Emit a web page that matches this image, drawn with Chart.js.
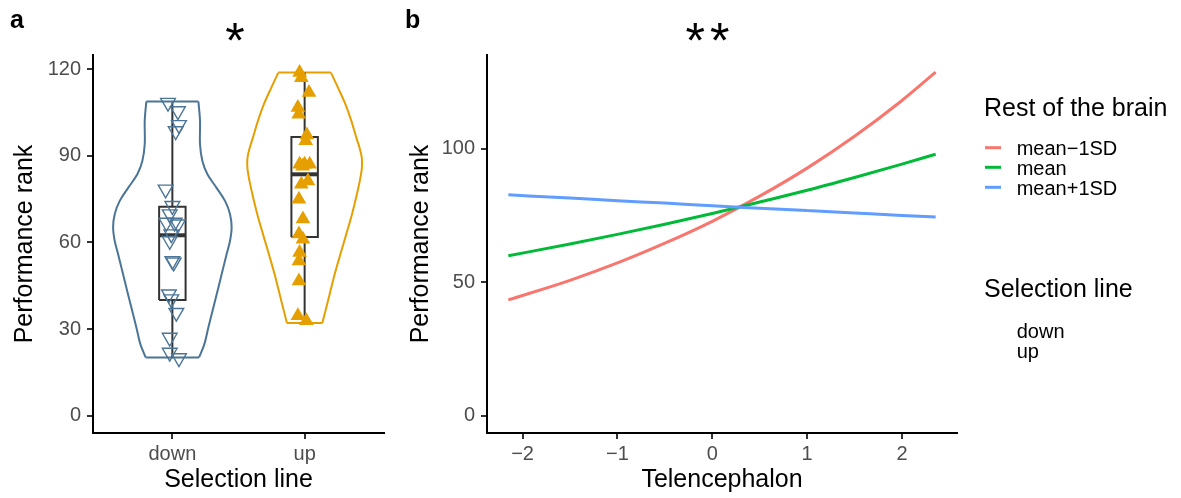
<!DOCTYPE html>
<html><head><meta charset="utf-8">
<script src="https://cdn.jsdelivr.net/npm/chart.js@4.4.1/dist/chart.umd.min.js"></script>
<style>
html,body{margin:0;padding:0;background:#fff;width:1181px;height:498px;overflow:hidden}
canvas{position:absolute;top:0}
#ca{left:0}
#cb{left:400px}
</style></head><body>
<canvas id="ca" width="400" height="498"></canvas>
<canvas id="cb" width="781" height="498"></canvas>
<script>
// ---------- Panel a data ----------
const selectionLines = ['down', 'up'];
const yTicksA = [0, 30, 60, 90, 120];
const downRank = [108.4, 105.5, 100.7, 98.6, 78.4, 72.7, 69.8, 66.9, 66.3, 66.9, 62.9, 60.6, 53.6, 53.1, 42.1, 40.4, 35.7, 27.1, 21.9, 20.0];
const downJitter = [-0.033, 0.042, 0.050, 0.025, -0.051, 0.0, -0.020, -0.045, 0.042, 0.017, -0.008, -0.020, 0.0, 0.010, -0.026, -0.008, 0.030, -0.020, -0.020, 0.050];
const upRank = [118.8, 117.0, 111.9, 106.7, 104.4, 97.2, 95.2, 87.1, 87.1, 87.1, 86.4, 81.3, 80.2, 75.0, 68.1, 62.9, 61.1, 56.5, 53.6, 46.7, 34.6, 32.9];
const upJitter = [-0.038, -0.025, 0.033, -0.051, -0.045, 0.017, 0.008, -0.038, 0.0, 0.038, -0.015, 0.025, -0.025, -0.043, -0.013, -0.043, -0.013, -0.038, -0.043, -0.043, -0.051, 0.013];
const downViolinRank = [108.8, 102.1, 94.0, 88.2, 83.6, 79.0, 74.4, 69.8, 65.2, 60.6, 55.9, 51.3, 44.4, 37.5, 30.6, 24.8, 20.2];
const downViolinHalfWidth = [0.197, 0.209, 0.209, 0.227, 0.265, 0.333, 0.398, 0.436, 0.448, 0.436, 0.410, 0.385, 0.348, 0.310, 0.272, 0.242, 0.202];
const upViolinRank = [118.8, 113.6, 107.9, 102.1, 96.3, 92.8, 89.4, 85.9, 82.0, 76.7, 69.8, 62.9, 55.9, 49.0, 42.1, 35.2, 32.1];
const upViolinHalfWidth = [0.199, 0.252, 0.308, 0.353, 0.391, 0.415, 0.432, 0.433, 0.420, 0.395, 0.358, 0.315, 0.270, 0.227, 0.189, 0.151, 0.134];
const boxQ1 = [40.1, 61.9];
const boxMedian = [62.5, 83.6];
const boxQ3 = [72.4, 96.5];
const whiskerLow = [20.0, 32.3];
const whiskerHigh = [108.5, 118.8];

// ---------- Panel b data ----------
const telencephalon = [-2.15, -1.5, -1.0, -0.5, 0.0, 0.5, 1.0, 1.5, 2.0, 2.355];
const rankMinus1SD = [43.4, 50.7, 57.2, 64.6, 72.8, 82.2, 92.7, 104.6, 118.0, 128.6];
const rankMean = [59.9, 64.3, 67.9, 71.7, 75.7, 80.0, 84.4, 89.2, 94.2, 97.9];
const rankPlus1SD = [82.7, 81.5, 80.5, 79.6, 78.6, 77.7, 76.8, 75.9, 75.0, 74.4];
const restLabels = ['mean\u22121SD', 'mean', 'mean+1SD'];
const xTicksB = [-2, -1, 0, 1, 2];
const yTicksB = [0, 50, 100];

// ---------- styles ----------
const FONT = "'Liberation Sans', Arial, Helvetica, sans-serif";
Chart.defaults.font.family = FONT;
const BLUE = '#4B7596';
const ORANGE = '#E69F00';
const BOX = '#333333';
const LINECOLORS = ['#F8766D', '#00BA38', '#619CFF'];
const tickFont = {size: 20};
const titleFont = {size: 25};
const TICKCOL = '#4D4D4D';

function lineDs(points, color, width, order, extra) {
  return Object.assign({type: 'scatter', data: points, showLine: true, borderColor: color,
    borderWidth: width, pointRadius: 0, pointHoverRadius: 0, fill: false, order: order,
    borderJoinStyle: 'round'}, extra || {});
}
function violinDs(center, ranks, hws, color) {
  const left = ranks.map((r, i) => ({x: center - hws[i], y: r}));
  const right = ranks.map((r, i) => ({x: center + hws[i], y: r}));
  const n = ranks.length - 1;
  return [
    lineDs(left, color, 2, 6, {tension: 0.35}),
    lineDs(right, color, 2, 6, {tension: 0.35}),
    lineDs([left[0], right[0]], color, 2, 6),
    lineDs([left[n], right[n]], color, 2, 6)
  ];
}
function boxDs(i) {
  const c = i + 1, hw = 0.1;
  return [
    lineDs([{x: c, y: whiskerLow[i]}, {x: c, y: boxQ1[i]}], BOX, 2, 5),
    lineDs([{x: c, y: boxQ3[i]}, {x: c, y: whiskerHigh[i]}], BOX, 2, 5),
    lineDs([{x: c - hw, y: boxQ1[i]}, {x: c + hw, y: boxQ1[i]}, {x: c + hw, y: boxQ3[i]},
            {x: c - hw, y: boxQ3[i]}, {x: c - hw, y: boxQ1[i]}], BOX, 2, 4,
           {fill: 'shape', backgroundColor: '#ffffff', borderJoinStyle: 'miter'}),
    lineDs([{x: c - hw, y: boxMedian[i]}, {x: c + hw, y: boxMedian[i]}], BOX, 4, 3)
  ];
}

function axisX(extra) {
  return Object.assign({
    type: 'linear',
    grid: {drawOnChartArea: false, drawTicks: true, tickLength: 6, tickColor: '#333', tickWidth: 2, color: '#333', lineWidth: 2},
    border: {display: true, color: '#000', width: 2},
    afterFit: s => { s.height = 65; }
  }, extra);
}
function axisY(width, extra) {
  return Object.assign({
    type: 'linear',
    grid: {drawOnChartArea: false, drawTicks: true, tickLength: 6, tickColor: '#333', tickWidth: 2, color: '#333', lineWidth: 2},
    border: {display: true, color: '#000', width: 2},
    afterFit: s => { s.width = width; }
  }, extra);
}

function annotPlugin(items, extraDraw) {
  return {
    id: 'annot',
    afterDraw(chart) {
      const ctx = chart.ctx;
      ctx.save();
      ctx.textBaseline = 'alphabetic';
      for (const t of items) {
        ctx.font = t.font;
        ctx.fillStyle = t.color || '#000';
        ctx.textAlign = t.align || 'left';
        try { ctx.letterSpacing = t.spacing || '0px'; } catch (e) {}
        ctx.fillText(t.text, t.x, t.y);
      }
      try { ctx.letterSpacing = '0px'; } catch (e) {}
      if (extraDraw) extraDraw(ctx);
      ctx.restore();
    }
  };
}

// ---------- Panel a ----------
const dsA = [].concat(
  violinDs(1, downViolinRank, downViolinHalfWidth, BLUE),
  violinDs(2, upViolinRank, upViolinHalfWidth, ORANGE),
  boxDs(0), boxDs(1),
  [{
    type: 'scatter', order: 1,
    data: downRank.map((r, i) => ({x: 1 + downJitter[i], y: r})),
    pointStyle: 'triangle', pointRotation: 180, pointRadius: 8.5, pointHoverRadius: 8.5,
    pointBorderColor: BLUE, pointBackgroundColor: 'rgba(0,0,0,0)', pointBorderWidth: 1.4
  }, {
    type: 'scatter', order: 0,
    data: upRank.map((r, i) => ({x: 2 + upJitter[i], y: r})),
    pointStyle: 'triangle', pointRotation: 0, pointRadius: 8.5, pointHoverRadius: 8.5,
    pointBorderColor: ORANGE, pointBackgroundColor: ORANGE, pointBorderWidth: 0
  }]
);

new Chart(document.getElementById('ca'), {
  type: 'scatter',
  data: {datasets: dsA},
  options: {
    responsive: false, animation: false, devicePixelRatio: 1,
    layout: {padding: {top: 55, right: 16, left: 0, bottom: 0}},
    plugins: {legend: {display: false}, tooltip: {enabled: false}},
    scales: {
      x: axisX({
        min: 0.4, max: 2.6,
        afterBuildTicks: s => { s.ticks = selectionLines.map((_, i) => ({value: i + 1})); },
        ticks: {callback: v => selectionLines[Math.round(v) - 1], font: tickFont, color: TICKCOL, padding: 3, maxRotation: 0, autoSkip: false},
        title: {display: true, text: 'Selection line', font: titleFont, color: '#000', padding: {top: 0, bottom: 3}}
      }),
      y: axisY(93, {
        min: -5.95, max: 124.9,
        afterBuildTicks: s => { s.ticks = yTicksA.map(v => ({value: v})); },
        ticks: {font: tickFont, color: TICKCOL, padding: 6},
        title: {display: true, text: 'Performance rank', font: titleFont, color: '#000', padding: {top: 10, bottom: 0}}
      })
    }
  },
  plugins: [annotPlugin([
    {text: 'a', x: 10, y: 28, font: 'bold 25px ' + FONT},
    {text: '*', x: 235, y: 58, font: '50px ' + FONT, align: 'center'}
  ])]
});

// ---------- Panel b ----------
const seriesB = [rankMinus1SD, rankMean, rankPlus1SD];
const dsB = seriesB.map((s, k) => ({
  type: 'line', label: restLabels[k],
  data: telencephalon.map((x, i) => ({x: x, y: s[i]})),
  borderColor: LINECOLORS[k], borderWidth: 3, pointRadius: 0, pointHoverRadius: 0,
  cubicInterpolationMode: 'monotone', fill: false, order: 3 - k
}));

const legendX = 584;
new Chart(document.getElementById('cb'), {
  type: 'line',
  data: {datasets: dsB},
  options: {
    responsive: false, animation: false, devicePixelRatio: 1,
    layout: {padding: {top: 55, right: 224, left: 0, bottom: 0}},
    plugins: {legend: {display: false}, tooltip: {enabled: false}},
    scales: {
      x: axisX({
        min: -2.375, max: 2.58,
        afterBuildTicks: s => { s.ticks = xTicksB.map(v => ({value: v})); },
        ticks: {callback: v => (v < 0 ? '\u2212' + Math.abs(v) : String(v)), font: tickFont, color: TICKCOL, padding: 3, maxRotation: 0, autoSkip: false},
        title: {display: true, text: 'Telencephalon', font: titleFont, color: '#000', padding: {top: 0, bottom: 3}}
      }),
      y: axisY(87, {
        min: -6.43, max: 135.03,
        afterBuildTicks: s => { s.ticks = yTicksB.map(v => ({value: v})); },
        ticks: {font: tickFont, color: TICKCOL, padding: 6},
        title: {display: true, text: 'Performance rank', font: titleFont, color: '#000', padding: {top: 6, bottom: 0}}
      })
    }
  },
  plugins: [annotPlugin([
    {text: 'b', x: 5, y: 28, font: 'bold 25px ' + FONT},
    {text: '**', x: 310, y: 58, font: '50px ' + FONT, align: 'center', spacing: '5px'},
    {text: 'Rest of the brain', x: legendX, y: 115.5, font: '25px ' + FONT},
    {text: restLabels[0], x: 616.7, y: 155.3, font: '20px ' + FONT},
    {text: restLabels[1], x: 616.7, y: 175.0, font: '20px ' + FONT},
    {text: restLabels[2], x: 616.7, y: 195.0, font: '20px ' + FONT},
    {text: 'Selection line', x: legendX, y: 296.7, font: '25px ' + FONT},
    {text: selectionLines[0], x: 616.7, y: 338.3, font: '20px ' + FONT},
    {text: selectionLines[1], x: 616.7, y: 357.8, font: '20px ' + FONT}
  ], ctx => {
    const ys = [147.7, 167.3, 187.3];
    ctx.lineWidth = 3;
    ys.forEach((y, k) => {
      ctx.strokeStyle = LINECOLORS[k];
      ctx.beginPath(); ctx.moveTo(585, y); ctx.lineTo(601, y); ctx.stroke();
    });
  })]
});
</script></body></html>
